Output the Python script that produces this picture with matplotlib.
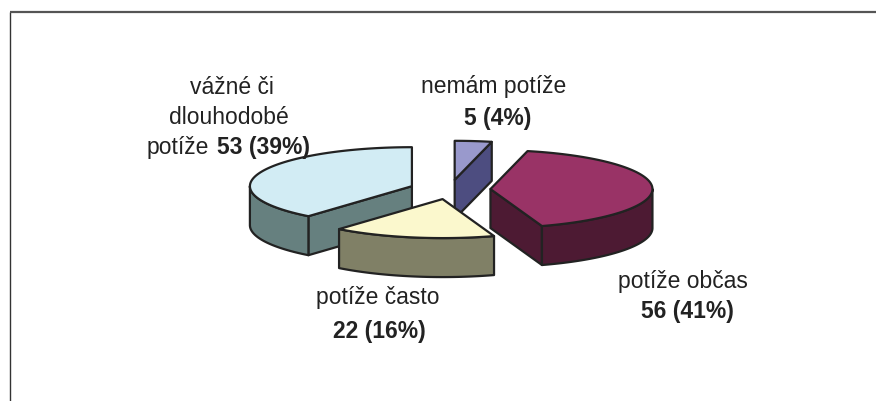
import numpy as np
import matplotlib
matplotlib.use("Agg")
import matplotlib.pyplot as plt
from matplotlib.patches import Polygon

plt.rcParams['font.family'] = ['Liberation Sans', 'DejaVu Sans']

categories = ["nemám potíže", "potíže občas", "potíže často", "vážné či dlouhodobé potíže"]
values = [5, 56, 22, 53]
percents = [4, 41, 16, 39]
top_colors = ["#9999CC", "#993366", "#FBF8CD", "#D2ECF4"]
side_colors = ["#4D4D80", "#4D1A33", "#808066", "#66807F"]
draw_order = [3, 0, 1, 2]

W, H = 876, 402
CX, CY, RX, RY, DEPTH, EXPLODE = 450, 190.5, 162, 39, 39, 0.25
EDGE = "#222222"
LW = 1.6
FS = 16.5

fig = plt.figure(figsize=(W / 100, H / 100), dpi=100, facecolor="white")
ax = fig.add_axes([0, 0, 1, 1])
ax.set_xlim(0, W)
ax.set_ylim(H, 0)
ax.axis("off")

# frame
ax.plot([10, 10], [13, H], color="#333333", lw=1.0, solid_capstyle="butt")
ax.plot([10, W], [13, 13], color="#555555", lw=1.6, solid_capstyle="butt")


def point(a, r=1.0):
    return np.array([RX * r * np.sin(a), -RY * r * np.cos(a)])


def poly(pts, color):
    ax.add_patch(Polygon(pts, closed=True, facecolor=color, edgecolor=EDGE,
                         lw=LW, joinstyle="round"))


fractions = np.array(values) / sum(values)
edges = np.concatenate([[0], np.cumsum(fractions)]) * 2 * np.pi

for i in draw_order:
    a0, a1 = edges[i], edges[i + 1]
    mid = (a0 + a1) / 2
    apex = np.array([CX, CY]) + point(mid, EXPLODE)
    down = np.array([0, DEPTH])
    # visible radial side walls
    if np.sin(a0) < -1e-6:
        p = apex + point(a0)
        poly([apex, p, p + down, apex + down], side_colors[i])
    if np.sin(a1) > 1e-6:
        p = apex + point(a1)
        poly([apex, p, p + down, apex + down], side_colors[i])
    # visible outer wall (front half of the ellipse)
    lo, hi = max(a0, np.pi / 2), min(a1, 3 * np.pi / 2)
    if hi > lo:
        t = np.linspace(lo, hi, 60)
        rim = np.array([apex + point(x) for x in t])
        poly(np.vstack([rim, rim[::-1] + down]), side_colors[i])
    # top face
    t = np.linspace(a0, a1, 90)
    rim = np.array([apex + point(x) for x in t])
    poly(np.vstack([[apex], rim]), top_colors[i])

TXT = "#222222"


def label(x, y, s, bold=False, ha="center"):
    ax.text(x, y, s, ha=ha, va="center", fontsize=FS, color=TXT,
            fontweight="bold" if bold else "normal")


def stat(i):
    return f"{values[i]} ({percents[i]}%)"


label(494, 87, categories[0])
label(498, 118, stat(0), bold=True)
label(683, 282, categories[1])
label(687, 312, stat(1), bold=True)
label(378, 298, categories[2])
label(379, 332, stat(2), bold=True)
words = categories[3].split(" ")
label(232, 87, " ".join(words[:2]))
label(229, 118, words[2])
label(147, 148, words[3], ha="left")
label(217, 148, stat(3), bold=True, ha="left")

fig.savefig("out.png", dpi=100, facecolor="white")
